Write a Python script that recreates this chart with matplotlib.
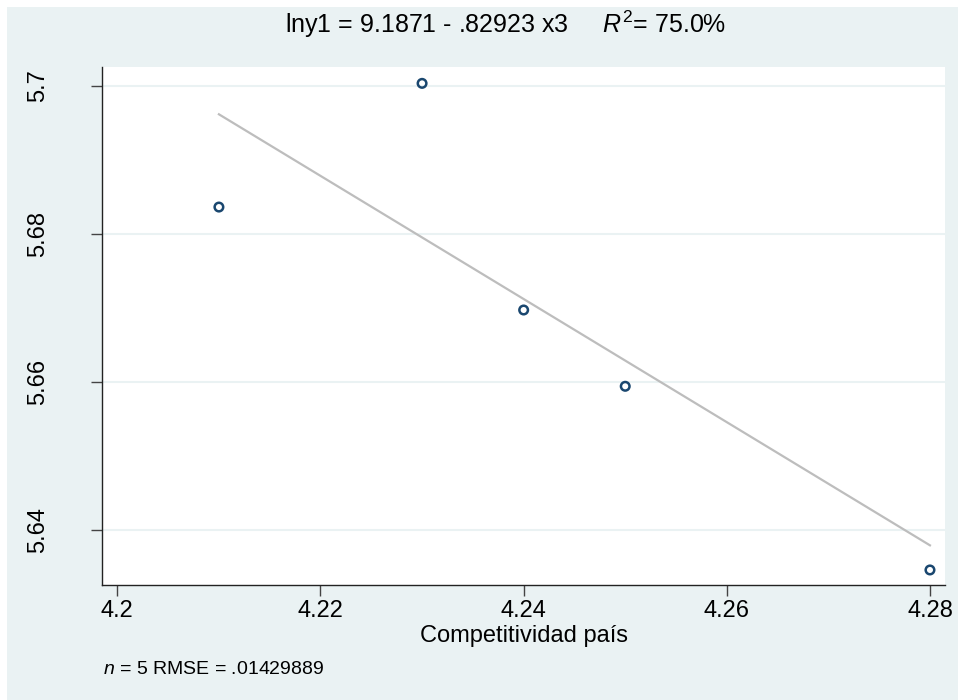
import numpy as np
import matplotlib
matplotlib.use("Agg")
import matplotlib.pyplot as plt
from matplotlib.patches import Rectangle

plt.rcParams['font.family'] = ['Liberation Sans', 'DejaVu Sans']
plt.rcParams['mathtext.fontset'] = 'custom'
plt.rcParams['mathtext.rm'] = 'Liberation Sans'
plt.rcParams['mathtext.it'] = 'Liberation Sans:italic'

# Data
x3 = [4.21, 4.23, 4.24, 4.25, 4.28]
lny1 = [5.6836, 5.7003, 5.6697, 5.6594, 5.6346]
x_ticks = [4.2, 4.22, 4.24, 4.26, 4.28]
x_tick_labels = ["4.2", "4.22", "4.24", "4.26", "4.28"]
y_ticks = [5.64, 5.66, 5.68, 5.7]
y_tick_labels = ["5.64", "5.66", "5.68", "5.7"]
title_text = r"lny1 = 9.1871 - .82923 x3     $\mathit{R}^{2}$= 75.0%"
xlabel_text = "Competitividad país"
note_text = r"$\mathit{n}$ = 5 RMSE = .01429889"

BG = "#EAF2F3"
W, H = 958, 700
fig = plt.figure(figsize=(W / 100, H / 100), dpi=100)
fig.patch.set_facecolor("white")
fig.patches.append(Rectangle((7 / W, 0), 1 - 7 / W, 1 - 7 / H, transform=fig.transFigure,
                             facecolor=BG, edgecolor="none", zorder=-10))

ax = fig.add_axes([102 / W, 1 - 585 / H, (945 - 102) / W, (585 - 67) / H])
ax.set_facecolor("white")

# fit line
coef = np.polyfit(x3, lny1, 1)
xs = np.array([min(x3), max(x3)])
ax.plot(xs, np.polyval(coef, xs), color="#BDBDBD", lw=1.6, zorder=2)
ax.scatter(x3, lny1, s=38, facecolors="none", edgecolors="#1A476F", linewidths=1.8, zorder=3)

ax.set_xlim(4.19849, 4.28148)
ax.set_ylim(5.63257, 5.70251)
ax.set_xticks(x_ticks)
ax.set_xticklabels(x_tick_labels, fontsize=17)
ax.set_yticks(y_ticks)
ax.set_yticklabels(y_tick_labels, fontsize=17, rotation=90, va="center")
ax.grid(axis="y", color=BG, lw=1.5)
ax.set_axisbelow(True)
for s in ["top", "right"]:
    ax.spines[s].set_visible(False)
for s in ["left", "bottom"]:
    ax.spines[s].set_color("#222222")
    ax.spines[s].set_linewidth(1.0)
ax.tick_params(axis="both", direction="out", length=8, width=1.0, color="#444444")
ax.tick_params(axis="x", pad=3)
ax.tick_params(axis="y", pad=30)
ax.set_xlabel(xlabel_text, fontsize=17, labelpad=2)

fig.text(506 / W, 1 - 24 / H, title_text, ha="center", va="center", fontsize=18)
fig.text(103 / W, 1 - 669 / H, note_text, ha="left", va="center", fontsize=14)

fig.savefig("out.png", dpi=100, facecolor=fig.get_facecolor())
